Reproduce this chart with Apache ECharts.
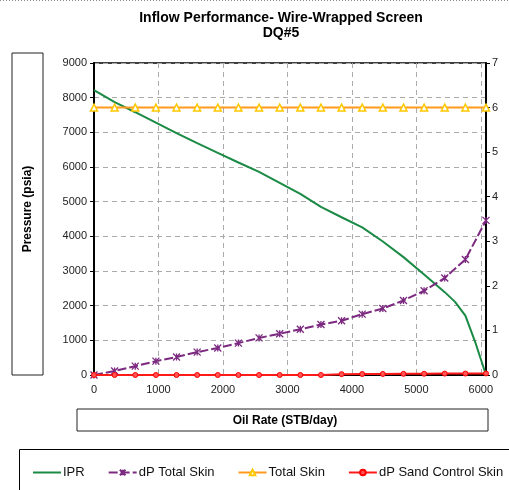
<!DOCTYPE html>
<html><head><meta charset="utf-8">
<script src="https://cdn.jsdelivr.net/npm/echarts@6/dist/echarts.min.js"></script>
<style>html,body{margin:0;padding:0;background:#fff}#c{width:509px;height:490px}</style>
</head><body><div id="c"></div>
<script>
// ---- data ----
const rates = [0,320,640,960,1280,1600,1920,2240,2560,2880,3200,3520,3840,4160,4480,4800,5120,5440,5760,6080];
const iprRates = [0,320,640,960,1280,1600,1920,2240,2560,2880,3200,3520,3840,4160,4480,4800,5120,5440,5600,5760,5920,6080];
const iprPressure = [8220,7870,7580,7280,6980,6690,6410,6130,5860,5545,5225,4850,4550,4260,3850,3400,2900,2390,2110,1710,910,0];
const dpTotalSkin = [0,115,255,400,520,660,780,920,1070,1190,1320,1455,1565,1755,1920,2150,2430,2800,3330,4460];
const totalSkin = [6,6,6,6,6,6,6,6,6,6,6,6,6,6,6,6,6,6,6,6];
const dpSandControlSkin = [0,0,0,0,0,0,0,0,0,0,0,0,25,28,30,33,36,40,42,45];
const xTicks = [0,1000,2000,3000,4000,5000,6000];
const titleLines = ['Inflow Performance- Wire-Wrapped Screen','DQ#5'];

const pair = (xs, ys) => xs.map((x,i)=>[x, ys[i]]);
const chart = echarts.init(document.getElementById('c'), null, {renderer:'canvas'});
const F = 'Arial, "Liberation Sans", sans-serif';
const starPath = 'path://M0,0L10,10M10,0L0,10M5,0L5,10';

chart.setOption({
  animation:false,
  backgroundColor:'#fff',
  grid:{left:94,right:23,top:63,bottom:115,show:true,borderColor:'#000',borderWidth:1.5,backgroundColor:'transparent'},
  xAxis:{type:'value',min:0,max:6080,interval:1000,
    axisLine:{show:true,onZero:false,lineStyle:{color:'#000',width:2}},
    axisTick:{show:false},
    axisLabel:{color:'#222',fontSize:11,fontFamily:F,margin:9,showMaxLabel:false,
      formatter:v=>xTicks.includes(v)?String(v):''},
    splitLine:{show:true,lineStyle:{color:'#aaa',type:[5,4],width:1}}},
  yAxis:[
    {type:'value',min:0,max:9000,interval:1000,position:'left',
     axisLine:{show:true,lineStyle:{color:'#000',width:2}},
     axisTick:{show:true,inside:false,length:4,lineStyle:{color:'#000'}},
     axisLabel:{color:'#222',fontSize:11,fontFamily:F,margin:7,formatter:v=>String(v)},
     splitLine:{show:true,lineStyle:{color:'#aaa',type:[5,4],width:1}}},
    {type:'value',min:0,max:7,interval:1,position:'right',
     axisLine:{show:true,lineStyle:{color:'#000',width:2}},
     axisTick:{show:true,inside:false,length:4,lineStyle:{color:'#000'}},
     axisLabel:{color:'#222',fontSize:11,fontFamily:F,margin:6,formatter:v=>String(v)},
     splitLine:{show:false}}
  ],
  legend:{left:27,top:461,width:490,itemWidth:28,itemHeight:7,itemGap:23,
    textStyle:{fontSize:13,fontFamily:F,color:'#111',padding:[0,0,0,-3]},
    data:[{name:'IPR',itemStyle:{opacity:0}},'dP Total Skin','Total Skin','dP Sand Control Skin']},
  graphic:[
    {type:'line',shape:{x1:0,y1:0.5,x2:509,y2:0.5},style:{stroke:'#888',lineWidth:1,lineDash:[1,2]}},
    {type:'text',x:281,y:11,style:{text:titleLines.join('\n'),textAlign:'center',textVerticalAlign:'top',font:'bold 14px '+F,fill:'#000',lineHeight:15}},
    {type:'rect',shape:{x:12,y:53,width:31,height:322},style:{fill:'#fff',stroke:'#222',lineWidth:1}},
    {type:'text',x:28,y:209,rotation:Math.PI/2,style:{text:'Pressure (psia)',textAlign:'center',textVerticalAlign:'middle',font:'bold 12px '+F,fill:'#000'}},
    {type:'rect',shape:{x:77,y:409,width:411,height:22},style:{fill:'#fff',stroke:'#222',lineWidth:1}},
    {type:'text',x:285,y:421,style:{text:'Oil Rate (STB/day)',textAlign:'center',textVerticalAlign:'middle',font:'bold 12px '+F,fill:'#000'}},
    {type:'rect',shape:{x:19.5,y:449.5,width:500,height:50},style:{fill:'transparent',stroke:'#000',lineWidth:1},z:-1}
  ],
  series:[
    {name:'IPR',type:'line',yAxisIndex:0,data:pair(iprRates,iprPressure),showSymbol:false,symbol:'circle',
     lineStyle:{color:'#1a8a45',width:2},itemStyle:{color:'#1a8a45'}},
    {name:'dP Total Skin',type:'line',yAxisIndex:0,data:pair(rates,dpTotalSkin),symbol:starPath,symbolSize:7,
     lineStyle:{color:'#7b2a80',width:2,type:[9,3]},itemStyle:{color:'#7b2a80',borderColor:'#7b2a80',borderWidth:1.3}},
    {name:'Total Skin',type:'line',yAxisIndex:1,data:pair(rates,totalSkin),symbol:'triangle',symbolSize:7,
     lineStyle:{color:'#ff9a1e',width:2},itemStyle:{color:'#fff',borderColor:'#ffc800',borderWidth:1.5}},
    {name:'dP Sand Control Skin',type:'line',yAxisIndex:0,data:pair(rates,dpSandControlSkin),symbol:'circle',symbolSize:5,
     lineStyle:{color:'#ff1a1a',width:2},itemStyle:{color:'#ff5555',borderColor:'#ff0000',borderWidth:1}}
  ]
});
</script></body></html>
